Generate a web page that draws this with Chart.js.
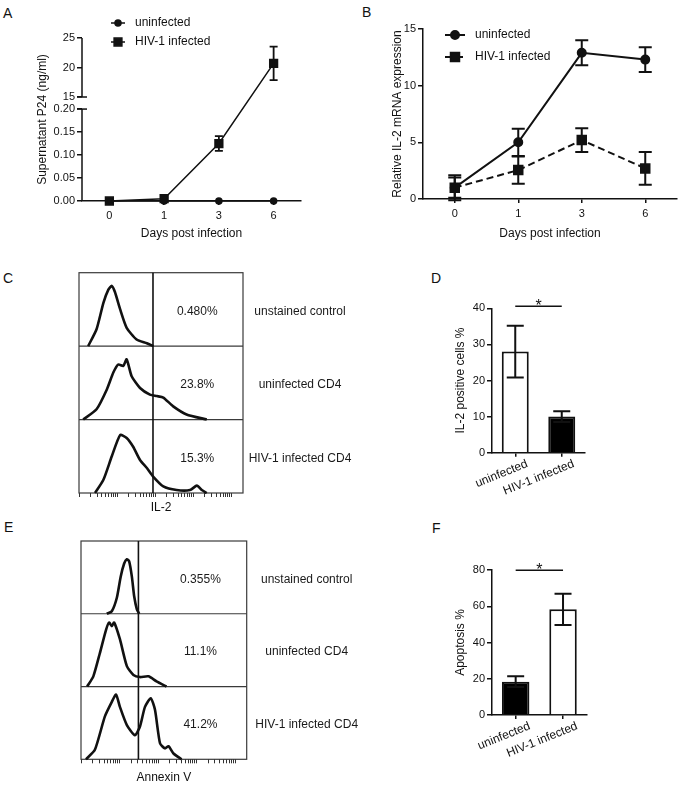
<!DOCTYPE html>
<html lang="en">
<head>
  <meta charset="UTF-8">
  <title>HIV-1 infection and IL-2 / apoptosis</title>
  <script src="https://cdn.jsdelivr.net/npm/chart.js"></script>
  <style>
    html, body {
      margin: 0;
      padding: 0;
      background: #fff;
      overflow: hidden;
    }
    .page {
      position: relative;
      width: 685px;
      height: 786px;
      font-family: 'Liberation Sans', Arial, sans-serif;
    }
    .page canvas {
      position: absolute;
    }
    .letter {
      position: absolute;
      font-size: 14px;
      line-height: 14px;
      color: #111;
    }
  </style>
</head>
<body>
  <div class="page">
    <div class="letter" style="left:3px; top:6px">A</div>
    <div class="letter" style="left:362px; top:5px">B</div>
    <div class="letter" style="left:3px; top:271px">C</div>
    <div class="letter" style="left:431px; top:271px">D</div>
    <div class="letter" style="left:4px; top:520px">E</div>
    <div class="letter" style="left:432px; top:521px">F</div>

    <canvas id="chartA" width="279" height="245" style="left:31px; top:0"></canvas>
    <canvas id="chartB" width="299" height="245" style="left:386px; top:0"></canvas>
    <canvas id="chartC" width="300" height="256" style="left:70px; top:262px"></canvas>
    <canvas id="chartD" width="151" height="208" style="left:449px; top:290px"></canvas>
    <canvas id="chartE" width="310" height="256" style="left:70px; top:532px"></canvas>
    <canvas id="chartF" width="151" height="206" style="left:449px; top:555px"></canvas>
  </div>

  <script>
    // ---- data ----
    const days = ['0', '1', '3', '6'];

    // A: supernatant P24 (ng/ml), broken y axis
    const aUninfected = [0, 0, 0, 0];
    const aInfected = [0, 0.005, 0.125, 20.7];
    const aInfectedErr = [0, 0.003, 0.016, 2.85];
    const aYTicks = [0, 0.05, 0.1, 0.15, 0.2, 15, 20, 25];
    const aYTickLabels = ['0.00', '0.05', '0.10', '0.15', '0.20', '15', '20', '25'];

    // B: relative IL-2 mRNA
    const bUninfected = [1.0, 5.0, 12.9, 12.3];
    const bUninfectedErr = [1.1, 1.2, 1.1, 1.1];
    const bInfected = [1.0, 2.55, 5.2, 2.7];
    const bInfectedErr = [0.9, 1.2, 1.05, 1.45];

    // D and F: bar charts
    const groups = ['uninfected', 'HIV-1 infected'];
    const dIl2 = [28.0, 10.0];
    const dIl2Err = [7.2, 1.5];
    const fApoptosis = [18.4, 58.3];
    const fApoptosisErr = [3.0, 8.6];

    // C and E: flow histograms, [log10 decade, height as fraction of row]
    const flowRows = ['unstained control', 'uninfected CD4', 'HIV-1 infected CD4'];
    const cPercents = ['0.480%', '23.8%', '15.3%'];
    const ePercents = ['0.355%', '11.1%', '41.2%'];
    const cGate = 1.94;
    const eGate = 1.49;

    const cUnstained = [[0.24,0],[0.46,0.23],[0.64,0.59],[0.77,0.77],[0.86,0.82],[0.94,0.74],[1.08,0.5],[1.25,0.25],[1.51,0.09],[1.78,0.04],[1.95,0]];
    const cUninfected = [[0.11,0],[0.46,0.14],[0.73,0.41],[0.9,0.64],[1.03,0.75],[1.16,0.73],[1.25,0.82],[1.38,0.59],[1.6,0.43],[1.86,0.34],[2.04,0.32],[2.21,0.3],[2.47,0.18],[2.82,0.07],[3.35,0]];
    const cInfected = [[0.42,0],[0.64,0.18],[0.86,0.5],[1.08,0.79],[1.25,0.75],[1.42,0.63],[1.6,0.45],[1.78,0.34],[1.95,0.22],[2.21,0.09],[2.56,0.04],[2.91,0.04],[3.09,0.1],[3.22,0.04],[3.35,0]];

    const eUnstained = [[0.67,0],[0.8,0.035],[0.93,0.22],[1.03,0.51],[1.12,0.69],[1.19,0.75],[1.25,0.72],[1.32,0.51],[1.38,0.24],[1.45,0.06],[1.51,0]];
    const eUninfected = [[0.16,0],[0.32,0.14],[0.49,0.46],[0.65,0.78],[0.73,0.88],[0.8,0.83],[0.86,0.88],[1.01,0.65],[1.19,0.28],[1.36,0.16],[1.53,0.13],[1.75,0.14],[1.96,0.07],[2.22,0]];
    const eInfected = [[0.13,0],[0.36,0.13],[0.62,0.59],[0.8,0.79],[0.91,0.89],[1.01,0.72],[1.19,0.47],[1.4,0.33],[1.53,0.45],[1.66,0.72],[1.81,0.84],[1.92,0.68],[2.05,0.22],[2.18,0.15],[2.27,0.18],[2.4,0.08],[2.61,0]];

    // ---- shared look ----
    Chart.defaults.font.family = "'Liberation Sans', Arial, sans-serif";
    Chart.defaults.font.size = 11;
    Chart.defaults.color = '#111';
    Chart.defaults.animation = false;
    Chart.defaults.responsive = false;
    Chart.defaults.plugins.legend.display = false;
    Chart.defaults.plugins.tooltip.enabled = false;

    const INK = '#111';

    // y scale with a gap between 0.20 and 15 (panel A)
    const BREAK = { lowMax: 0.2, highMin: 15, lowFrac: 0.564, gapFrac: 0.074 };
    class BrokenScale extends Chart.LinearScale {
      static id = 'broken';
      static defaults = {};
      buildTicks() {
        return aYTicks.map(v => ({ value: v }));
      }
      frac(v) {
        if (v <= BREAK.lowMax) return v / BREAK.lowMax * BREAK.lowFrac;
        if (v >= BREAK.highMin) {
          return BREAK.lowFrac + BREAK.gapFrac +
            (v - BREAK.highMin) / (this.max - BREAK.highMin) * (1 - BREAK.lowFrac - BREAK.gapFrac);
        }
        return BREAK.lowFrac + (v - BREAK.lowMax) / (BREAK.highMin - BREAK.lowMax) * BREAK.gapFrac;
      }
      getPixelForValue(v) {
        return this.bottom - this.frac(v) * (this.bottom - this.top);
      }
      getValueForPixel(p) {
        const f = (this.bottom - p) / (this.bottom - this.top);
        if (f <= BREAK.lowFrac) return f / BREAK.lowFrac * BREAK.lowMax;
        return BREAK.highMin + (f - BREAK.lowFrac - BREAK.gapFrac) / (1 - BREAK.lowFrac - BREAK.gapFrac) * (this.max - BREAK.highMin);
      }
    }
    Chart.register(BrokenScale);

    // draws the broken y axis line of panel A
    const brokenAxis = {
      id: 'brokenAxis',
      afterDraw(chart) {
        const { ctx, scales: { y } } = chart;
        const x = y.right;
        const seg = (a, b) => { ctx.beginPath(); ctx.moveTo(x, y.getPixelForValue(a)); ctx.lineTo(x, y.getPixelForValue(b)); ctx.stroke(); };
        ctx.save();
        ctx.strokeStyle = INK;
        ctx.lineWidth = 1.5;
        seg(0, BREAK.lowMax);
        seg(BREAK.highMin, y.max);
        [BREAK.lowMax, BREAK.highMin].forEach(v => {
          const py = y.getPixelForValue(v);
          ctx.beginPath(); ctx.moveTo(x - 5, py); ctx.lineTo(x + 5, py); ctx.stroke();
        });
        ctx.restore();
      }
    };

    const errorBars = {
      id: 'errorBars',
      afterDatasetsDraw(chart) {
        const { ctx, scales: { y } } = chart;
        chart.data.datasets.forEach((ds, i) => {
          if (!ds.errors) return;
          const meta = chart.getDatasetMeta(i);
          ctx.save();
          ctx.strokeStyle = INK;
          ctx.lineWidth = ds.errorLineWidth || 2;
          ctx.setLineDash([]);
          meta.data.forEach((el, j) => {
            const e = ds.errors[j];
            if (!e) return;
            const v = ds.data[j];
            const top = y.getPixelForValue(v + e);
            const bot = y.getPixelForValue(v - e);
            const w = ds.capWidth / 2;
            ctx.beginPath();
            ctx.moveTo(el.x, top); ctx.lineTo(el.x, bot);
            ctx.moveTo(el.x - w, top); ctx.lineTo(el.x + w, top);
            ctx.moveTo(el.x - w, bot); ctx.lineTo(el.x + w, bot);
            ctx.stroke();
          });
          ctx.restore();
        });
      }
    };

    const seriesLegend = {
      id: 'seriesLegend',
      afterDraw(chart, args, o) {
        const { ctx, chartArea: a } = chart;
        chart.data.datasets.forEach((ds, i) => {
          const y = a.top + o.dy[i];
          const x0 = a.left + o.dx;
          ctx.save();
          ctx.strokeStyle = INK;
          ctx.fillStyle = INK;
          ctx.lineWidth = ds.borderWidth;
          ctx.setLineDash(ds.borderDash || []);
          ctx.beginPath(); ctx.moveTo(x0, y); ctx.lineTo(x0 + o.len, y); ctx.stroke();
          ctx.setLineDash([]);
          Chart.helpers.drawPoint(ctx, { pointStyle: ds.pointStyle, radius: ds.pointRadius, rotation: 0, borderWidth: 1 }, x0 + o.len / 2, y);
          ctx.font = "12px 'Liberation Sans', Arial, sans-serif";
          ctx.textBaseline = 'middle';
          ctx.textAlign = 'left';
          ctx.fillText(ds.label, x0 + o.len + o.gap, y);
          ctx.restore();
        });
      }
    };

    const sigBar = {
      id: 'sigBar',
      afterDraw(chart, args, o) {
        const { ctx, scales: { x, y } } = chart;
        const py = y.getPixelForValue(o.value);
        const x1 = x.getPixelForValue(0), x2 = x.getPixelForValue(1);
        ctx.save();
        ctx.strokeStyle = INK;
        ctx.lineWidth = 1.5;
        ctx.beginPath(); ctx.moveTo(x1, py); ctx.lineTo(x2, py); ctx.stroke();
        ctx.fillStyle = INK;
        ctx.font = "16px 'Liberation Sans', Arial, sans-serif";
        ctx.textAlign = 'center';
        ctx.textBaseline = 'alphabetic';
        ctx.fillText(o.text, (x1 + x2) / 2, py + 5);
        ctx.restore();
      }
    };

    const flowFrame = {
      id: 'flowFrame',
      beforeDatasetsDraw(chart) {
        const { ctx, chartArea: a, scales: { y } } = chart;
        ctx.save();
        ctx.strokeStyle = '#3a3a3a';
        ctx.lineWidth = 1.2;
        ctx.strokeRect(a.left, a.top, a.right - a.left, a.bottom - a.top);
        for (let r = 1; r < y.max; r++) {
          const py = y.getPixelForValue(r);
          ctx.beginPath(); ctx.moveTo(a.left, py); ctx.lineTo(a.right, py); ctx.stroke();
        }
        ctx.restore();
      },
      afterDatasetsDraw(chart, args, o) {
        const { ctx, chartArea: a, scales: { x, y } } = chart;
        ctx.save();
        const gx = x.getPixelForValue(o.gate);
        ctx.strokeStyle = INK;
        ctx.lineWidth = 1.6;
        ctx.beginPath(); ctx.moveTo(gx, a.top); ctx.lineTo(gx, a.bottom); ctx.stroke();
        ctx.fillStyle = '#1a1a1a';
        ctx.font = "12px 'Liberation Sans', Arial, sans-serif";
        ctx.textAlign = 'center';
        ctx.textBaseline = 'middle';
        o.percents.forEach((t, k) => {
          const row = o.percents.length - 1 - k;
          const py = y.getPixelForValue(row + 0.5) + 2;
          ctx.fillText(t, x.getPixelForValue(o.pctX), py);
          ctx.fillText(o.rows[k], a.right + o.labelDx, py);
        });
        ctx.restore();
      }
    };

    // ---- helpers ----
    function logTicks(maxDec) {
      const out = [];
      for (let d = 0; d < 5; d++) {
        for (let k = 1; k < 10; k++) {
          const v = d + Math.log10(k);
          if (v <= maxDec) out.push(v);
        }
      }
      return out;
    }

    function histogram(points, row) {
      return {
        data: points.map(p => ({ x: p[0], y: row + p[1] })),
        borderColor: INK,
        borderWidth: 2.6,
        pointRadius: 0,
        tension: 0.2,
        clip: false
      };
    }

    function lineSeries(label, values, errors, style) {
      return Object.assign({
        label: label,
        data: values,
        errors: errors,
        borderColor: INK,
        backgroundColor: INK,
        pointBackgroundColor: INK,
        pointBorderColor: INK,
        clip: false
      }, style);
    }

    function titleFont() {
      return { size: 12 };
    }

    // ---- A ----
    new Chart(document.getElementById('chartA'), {
      type: 'line',
      data: {
        labels: days,
        datasets: [
          lineSeries('uninfected', aUninfected, null, { borderWidth: 1.5, pointStyle: 'circle', pointRadius: 3 }),
          lineSeries('HIV-1 infected', aInfected, aInfectedErr, { borderWidth: 1.5, pointStyle: 'rect', pointRadius: 5.5, capWidth: 8, errorLineWidth: 1.8 })
        ]
      },
      options: {
        layout: { padding: { top: 38, right: 9, left: 0, bottom: 0 } },
        scales: {
          x: {
            type: 'category',
            offset: true,
            grid: { drawOnChartArea: false, tickLength: 4, color: INK, lineWidth: 1.5 },
            border: { color: INK, width: 1.5 },
            ticks: { padding: 4 },
            title: { display: true, text: 'Days post infection', font: titleFont() },
            afterFit: s => { s.height = 44; }
          },
          y: {
            type: 'broken',
            min: 0,
            max: 25,
            grid: { drawOnChartArea: false, tickLength: 5, color: INK, lineWidth: 1.5 },
            border: { display: false },
            ticks: { padding: 2, callback: (v, i) => aYTickLabels[i] },
            title: { display: true, text: 'Supernatant P24 (ng/ml)', font: titleFont() },
            afterFit: s => { s.width = 51; }
          }
        },
        plugins: {
          seriesLegend: { dx: 29, len: 14, gap: 10, dy: [-15, 4] }
        }
      },
      plugins: [brokenAxis, errorBars, seriesLegend]
    });

    // ---- B ----
    new Chart(document.getElementById('chartB'), {
      type: 'line',
      data: {
        labels: days,
        datasets: [
          lineSeries('uninfected', bUninfected, bUninfectedErr, { borderWidth: 2, pointStyle: 'circle', pointRadius: 4, capWidth: 13 }),
          lineSeries('HIV-1 infected', bInfected, bInfectedErr, { borderWidth: 2, borderDash: [7, 4], pointStyle: 'rect', pointRadius: 6, capWidth: 13 })
        ]
      },
      options: {
        layout: { padding: { top: 29, right: 3, left: 0, bottom: 0 } },
        scales: {
          x: {
            type: 'category',
            offset: true,
            grid: { drawOnChartArea: false, tickLength: 4, color: INK, lineWidth: 1.5 },
            border: { color: INK, width: 1.5 },
            ticks: { padding: 4 },
            title: { display: true, text: 'Days post infection', font: titleFont() },
            afterFit: s => { s.height = 46; }
          },
          y: {
            min: 0,
            max: 15,
            grid: { drawOnChartArea: false, tickLength: 5, color: INK, lineWidth: 1.5 },
            border: { color: INK, width: 1.5 },
            ticks: { stepSize: 5, padding: 2 },
            title: { display: true, text: 'Relative IL-2 mRNA expression', font: titleFont() },
            afterFit: s => { s.width = 37; }
          }
        },
        plugins: {
          seriesLegend: { dx: 22, len: 20, gap: 10, dy: [6, 28] }
        }
      },
      plugins: [errorBars, seriesLegend]
    });

    // ---- C and E: flow histograms ----
    function flowChart(id, hists, opts) {
      return new Chart(document.getElementById(id), {
        type: 'line',
        data: {
          datasets: [histogram(hists[0], 2), histogram(hists[1], 1), histogram(hists[2], 0)]
        },
        options: {
          layout: { padding: opts.padding },
          scales: {
            x: {
              type: 'linear',
              min: 0,
              max: 4.3,
              afterBuildTicks: s => { s.ticks = logTicks(4.3).map(v => ({ value: v })); },
              ticks: { display: false },
              grid: { drawOnChartArea: false, tickLength: 4, color: '#333', lineWidth: 1 },
              border: { display: false },
              title: { display: true, text: opts.title, font: titleFont(), padding: { top: 0, bottom: 3 } },
              afterFit: s => { s.height = opts.axisHeight; }
            },
            y: { type: 'linear', min: 0, max: 3, display: false }
          },
          plugins: {
            flowFrame: { gate: opts.gate, pctX: 3.1, percents: opts.percents, rows: flowRows, labelDx: opts.labelDx }
          }
        },
        plugins: [flowFrame]
      });
    }

    flowChart('chartC', [cUnstained, cUninfected, cInfected], {
      padding: { left: 9, right: 127, top: 10.7, bottom: 0 },
      axisHeight: 25,
      title: 'IL-2',
      gate: cGate,
      percents: cPercents,
      labelDx: 57
    });

    flowChart('chartE', [eUnstained, eUninfected, eInfected], {
      padding: { left: 11, right: 133.3, top: 9, bottom: 0 },
      axisHeight: 28.7,
      title: 'Annexin V',
      gate: eGate,
      percents: ePercents,
      labelDx: 60
    });

    // ---- D and F: bars ----
    function barChart(id, values, errors, fills, opts) {
      return new Chart(document.getElementById(id), {
        type: 'bar',
        data: {
          labels: groups,
          datasets: [{
            data: values,
            errors: errors,
            capWidth: 17,
            errorLineWidth: 2,
            backgroundColor: fills,
            borderColor: INK,
            borderWidth: 2,
            barPercentage: 0.58,
            categoryPercentage: 1
          }]
        },
        options: {
          layout: { padding: opts.padding },
          scales: {
            x: {
              grid: { drawOnChartArea: false, offset: false, tickLength: 4, color: INK, lineWidth: 1.5 },
              border: { color: INK, width: 1.5 },
              ticks: { font: { size: 12 }, minRotation: 22, maxRotation: 22, padding: 0, labelOffset: opts.labelOffset },
              afterFit: s => { s.height = opts.axisHeight; }
            },
            y: {
              min: 0,
              max: opts.max,
              grid: { drawOnChartArea: false, tickLength: 5, color: INK, lineWidth: 1.5 },
              border: { color: INK, width: 1.5 },
              ticks: { stepSize: opts.step, padding: 2 },
              title: { display: true, text: opts.title, font: titleFont() },
              afterFit: s => { s.width = 43; }
            }
          },
          plugins: {
            sigBar: { value: opts.sig, text: '*' }
          }
        },
        plugins: [errorBars, sigBar]
      });
    }

    barChart('chartD', dIl2, dIl2Err, ['#fff', '#000'], {
      padding: { top: 18.3, right: 15, left: 0, bottom: 0 },
      axisHeight: 45.3,
      max: 40,
      step: 10,
      title: 'IL-2 positive cells %',
      sig: 40.6,
      labelOffset: 12
    });

    barChart('chartF', fApoptosis, fApoptosisErr, ['#000', '#fff'], {
      padding: { top: 15, right: 13.3, left: 0, bottom: 0 },
      axisHeight: 46,
      max: 80,
      step: 20,
      title: 'Apoptosis %',
      sig: 79.8,
      labelOffset: 14
    });
  </script>
</body>
</html>
